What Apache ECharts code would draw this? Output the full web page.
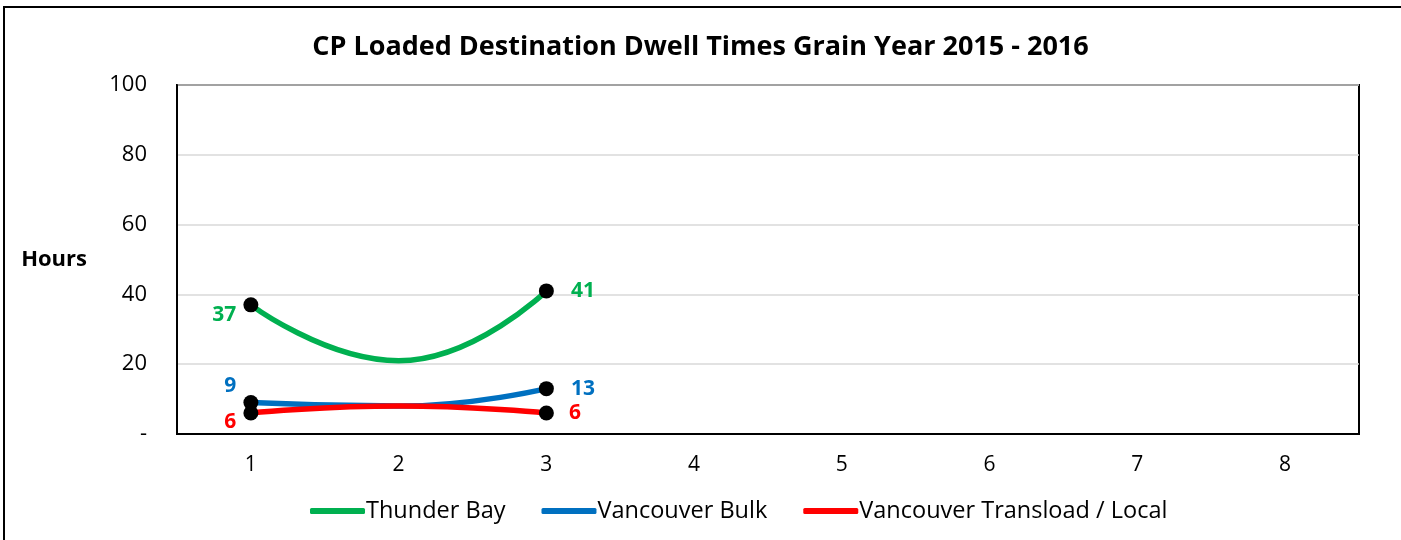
<!DOCTYPE html>
<html>
<head>
<meta charset="utf-8">
<script src="https://cdn.jsdelivr.net/npm/echarts@6/dist/echarts.min.js"></script>
<style>
  html, body { margin: 0; padding: 0; background: #fff; }
  #chart { width: 1401px; height: 540px; }
</style>
</head>
<body>
<div id="chart"></div>
<script>
const categories = ["1", "2", "3", "4", "5", "6", "7", "8"];
const thunderBay = [37, 21, 41];
const vancouverBulk = [9, 8, 13];
const vancouverTransload = [6, 8, 6];
const seriesNames = ["Thunder Bay", "Vancouver Bulk", "Vancouver Transload / Local"];
const seriesColors = ["#00B050", "#0070C0", "#FF0000"];

const FONT = "'Open Sans', 'Noto Sans', sans-serif";

// label placement for first / last point of each series
const labelPos = [
  [{ position: "left", offset: [-2, 10] }, { position: "right", offset: [12, 0] }],
  [{ position: "left", offset: [-2, -17] }, { position: "right", offset: [12, 0] }],
  [{ position: "left", offset: [-2, 9] }, { position: "right", offset: [10, 0] }],
];

const makeData = (vals, idx) =>
  vals.map((v, i) => {
    if (i === 0 || i === vals.length - 1) {
      const p = labelPos[idx][i === 0 ? 0 : 1];
      return {
        value: v,
        label: { show: true, position: p.position, offset: p.offset },
      };
    }
    return { value: v, symbol: "none", label: { show: false } };
  });

const chart = echarts.init(document.getElementById("chart"));

const option = {
  animation: false,
  textStyle: { fontFamily: FONT },
  title: {
    text: "CP Loaded Destination Dwell Times Grain Year 2015 - 2016",
    left: "center",
    top: 29,
    textStyle: { fontFamily: FONT, fontSize: 27, fontWeight: "bold", color: "#000" },
  },
  graphic: [
    {
      type: "polyline",
      shape: { points: [[4, 560], [4, 7], [1410, 7]] },
      style: { stroke: "#000", lineWidth: 2, fill: null },
      silent: true,
    },
  ],
  legend: {
    bottom: 12,
    left: 305,
    itemWidth: 55,
    itemHeight: 6,
    itemGap: 36,
    icon: "roundRect",
    textStyle: { fontFamily: FONT, fontSize: 23.5, color: "#000", padding: [0, 0, 0, -4] },
    data: seriesNames.map((n, i) => ({ name: n, itemStyle: { color: seriesColors[i] } })),
  },
  grid: {
    left: 177,
    right: 42,
    top: 85,
    bottom: 106,
    show: true,
    borderColor: "#000",
    borderWidth: 2,
  },
  xAxis: {
    type: "category",
    data: categories,
    boundaryGap: true,
    axisLine: { show: true, lineStyle: { color: "#000", width: 2 } },
    axisTick: { show: false },
    axisLabel: { color: "#000", fontSize: 21, margin: 21, fontFamily: FONT },
  },
  yAxis: {
    type: "value",
    min: 0,
    max: 100,
    interval: 20,
    name: "Hours",
    nameLocation: "middle",
    nameRotate: 0,
    nameGap: 90,
    nameTextStyle: { fontFamily: FONT, fontSize: 22, fontWeight: "bold", color: "#000", padding: [6, 0, 0, 0] },
    axisLine: { show: true, lineStyle: { color: "#000", width: 2 } },
    axisTick: { show: false },
    splitLine: { show: true, lineStyle: { color: "#d9d9d9", width: 1.5 } },
    axisLabel: {
      color: "#000",
      fontSize: 22,
      margin: 30,
      fontFamily: FONT,
      formatter: (v) => (v === 0 ? "-" : String(v)),
    },
  },
  series: [thunderBay, vancouverBulk, vancouverTransload].map((vals, idx) => ({
    name: seriesNames[idx],
    type: "line",
    smooth: 0.5,
    data: makeData(vals, idx),
    color: seriesColors[idx],
    lineStyle: { color: seriesColors[idx], width: 5.5 },
    symbol: "circle",
    symbolSize: 15,
    showAllSymbol: true,
    itemStyle: { color: "#000", borderWidth: 0 },
    label: {
      color: seriesColors[idx],
      fontSize: 21,
      fontWeight: "bold",
      fontFamily: FONT,
    },
  })),
};

chart.setOption(option);
</script>
</body>
</html>
